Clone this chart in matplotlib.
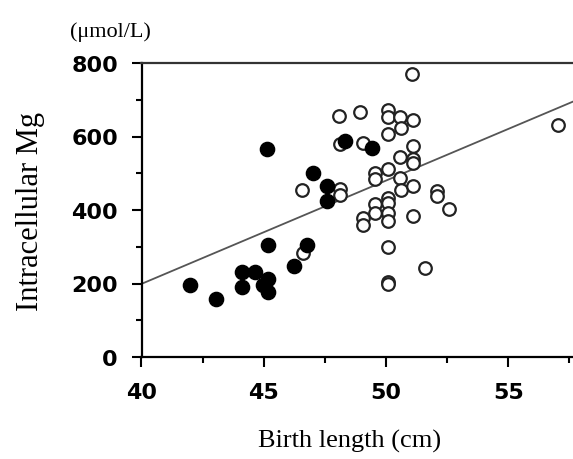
import matplotlib
matplotlib.use("Agg")
import matplotlib.pyplot as plt
from matplotlib.ticker import MultipleLocator
import numpy as np

# Open circles
open_x = [51.07, 48.09, 48.95, 50.09, 50.09, 50.57, 51.09, 50.61, 50.09, 51.09, 57.05,
          50.57, 51.09, 51.09, 49.55, 50.09, 49.55, 50.57, 50.60, 51.09, 52.07, 52.07,
          52.59, 50.09, 50.09, 49.55, 49.55, 49.07, 49.07, 50.09, 50.09, 51.09, 50.09,
          51.60, 50.09, 50.09, 48.12, 48.12, 46.58, 46.59, 49.07, 48.10]
open_y = [770, 655, 667, 672, 653, 653, 644, 624, 608, 575, 632,
          543, 539, 527, 502, 511, 484, 488, 454, 465, 452, 438,
          403, 433, 418, 415, 392, 379, 360, 392, 369, 383, 298,
          241, 204, 198, 456, 442, 455, 282, 582, 580]

# Filled circles
filled_x = [45.12, 48.32, 49.41, 47.03, 47.60, 47.60, 45.19, 46.76,
            41.98, 43.05, 44.10, 44.10, 44.64, 45.16, 44.98, 45.16, 46.24]
filled_y = [567, 588, 569, 500, 465, 424, 304, 304,
            195, 159, 232, 191, 232, 213, 195, 177, 247]

# Regression line parameters
reg_slope = 28.1
reg_intercept = -925.0

x_ticks = [40, 45, 50, 55]
y_ticks = [0, 200, 400, 600, 800]

W, H = 573, 460
fig = plt.figure(figsize=(W / 100, H / 100), dpi=100)
left_px, right_px, top_px, bottom_px = 141.5, 573, 64, 358
ax = fig.add_axes([left_px / W, 1 - bottom_px / H,
                   (right_px - left_px) / W, (bottom_px - top_px) / H])
ax.set_xlim(40, 57.65)
ax.set_ylim(0, 800)

xl = np.array(ax.get_xlim())
ax.plot(xl, reg_intercept + reg_slope * xl, color="#555555", lw=1.3, zorder=1)

ax.scatter(open_x, open_y, s=82, facecolors="white", edgecolors="#222222",
           linewidths=1.6, zorder=2)
ax.scatter(filled_x, filled_y, s=105, facecolors="black", edgecolors="black",
           linewidths=1.0, zorder=3)

for s in ["left", "bottom", "top"]:
    ax.spines[s].set_linewidth(1.6)
    ax.spines[s].set_color("black")
ax.spines["top"].set_color("#333333")
ax.spines["right"].set_visible(False)

ax.set_xticks(x_ticks)
ax.set_yticks(y_ticks)
ax.xaxis.set_minor_locator(MultipleLocator(2.5))
ax.yaxis.set_minor_locator(MultipleLocator(100))
ax.tick_params(axis="both", which="major", direction="out", length=7, width=1.5,
               labelsize=16)
ax.tick_params(axis="x", which="major", pad=11)
ax.tick_params(axis="y", which="major", pad=10)
ax.tick_params(axis="both", which="minor", direction="out", length=4.5, width=1.5)
ax.tick_params(top=False, right=False, which="both")
for lab in ax.get_xticklabels() + ax.get_yticklabels():
    lab.set_fontweight("bold")
    lab.set_family("DejaVu Sans")

fig.text(350 / W, 1 - 441 / H, "Birth length (cm)", family="Liberation Serif",
         fontsize=19, ha="center", va="center")
fig.text(31 / W, 1 - 211 / H, "Intracellular Mg", family="Liberation Serif",
         fontsize=22, ha="center", va="center", rotation=90)
fig.text(110 / W, 1 - 32 / H, "(μmol/L)", family="Liberation Serif", fontsize=16,
         ha="center", va="center")

fig.savefig("out.png", dpi=100)
